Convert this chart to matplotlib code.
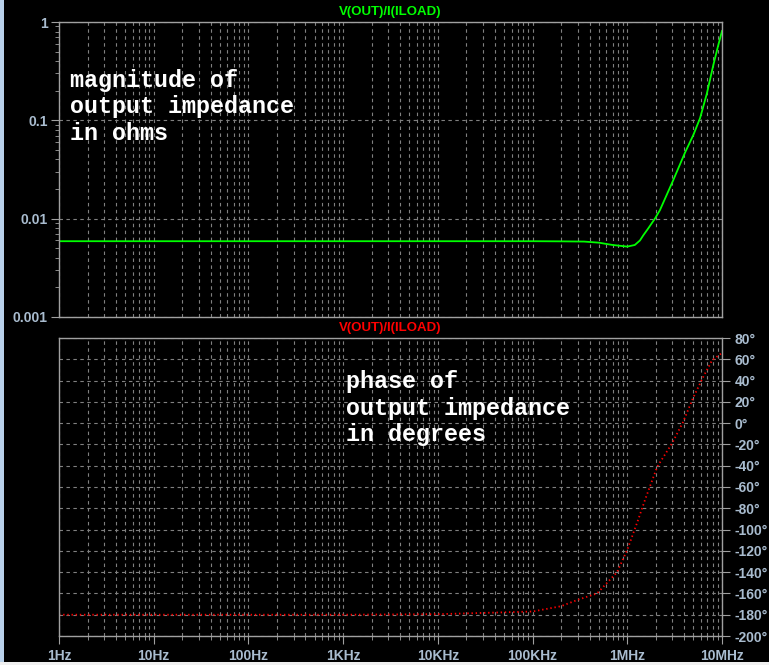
import matplotlib
matplotlib.use("Agg")
import matplotlib.pyplot as plt
import numpy as np
from matplotlib.ticker import LogLocator, NullFormatter
from matplotlib.patches import Rectangle

# magnitude of V(OUT)/I(ILOAD), ohms
freq_mag = [1, 10, 100, 1e3, 1e4, 1e5, 2e5, 3.5e5, 5e5, 7e5, 1e6, 1.2e6, 1.36e6,
            1.48e6, 1.67e6, 1.97e6, 2.21e6, 2.61e6, 3.06e6, 4.07e6, 4.98e6,
            5.86e6, 6.9e6, 8.1e6, 9e6, 1e7]
mag = [0.0059, 0.0059, 0.0059, 0.0059, 0.0059, 0.0059, 0.00588, 0.00585, 0.0057,
       0.0054, 0.0052, 0.0054, 0.006, 0.0068, 0.008, 0.0101, 0.0122, 0.0175, 0.0247,
       0.047, 0.0709, 0.105, 0.185, 0.365, 0.55, 0.81]

# phase of V(OUT)/I(ILOAD), degrees
freq_ph = [1, 1e3, 1e4, 1e5, 2e5, 3e5, 4.8e5, 7.8e5, 1e6, 1.3e6, 1.54e6, 2.07e6,
           2.97e6, 3.88e6, 4.95e6, 6.3e6, 7.85e6, 1e7]
phase = [-180, -180, -179.5, -177, -172, -166, -160, -140, -119, -91, -72, -41,
         -19, 1, 23.6, 43, 59, 66]

x_ticks = [1, 10, 100, 1e3, 1e4, 1e5, 1e6, 1e7]
x_labels = ["1Hz", "10Hz", "100Hz", "1KHz", "10KHz", "100KHz", "1MHz", "10MHz"]
mag_ticks = [0.001, 0.01, 0.1, 1]
mag_labels = ["0.001", "0.01", "0.1", "1"]
ph_ticks = list(range(-200, 81, 20))
ph_labels = ["%d\u00b0" % d for d in ph_ticks]
trace_name = "V(OUT)/I(ILOAD)"

plt.rcParams['lines.scale_dashes'] = False
bg = "black"
spine_c = "#a0a0a0"
grid_c = "#808080"
lab_c = "#a9bccf"
grid_dash = (0, (2.5, 2.5))

fig = plt.figure(figsize=(7.69, 6.65), dpi=100, facecolor=bg)
ax1 = fig.add_axes([59/769, 1-317/665, 663/769, 295/665], facecolor=bg)
ax2 = fig.add_axes([59/769, 1-636/665, 663/769, 298/665], facecolor=bg)

for ax in (ax1, ax2):
    ax.set_xscale("log")
    ax.set_xlim(1, 1e7)
    for s in ax.spines.values():
        s.set_color(spine_c)
        s.set_linewidth(1.0)
    ax.xaxis.set_minor_locator(LogLocator(base=10, subs=np.arange(2, 10), numticks=20))
    ax.xaxis.set_minor_formatter(NullFormatter())
    ax.grid(True, which="both", axis="x", color=grid_c, linestyle=grid_dash, linewidth=0.8)

# top: magnitude
ax1.set_yscale("log")
ax1.set_ylim(0.001, 1)
ax1.plot(freq_mag, mag, color="#00ff00", linewidth=1.3)
ax1.set_yticks(mag_ticks)
ax1.set_yticklabels(mag_labels)
ax1.yaxis.set_minor_locator(LogLocator(base=10, subs=np.arange(2, 10), numticks=20))
ax1.yaxis.set_minor_formatter(NullFormatter())
ax1.grid(True, which="major", axis="y", color=grid_c, linestyle=grid_dash, linewidth=0.8)
ax1.tick_params(axis="x", which="both", bottom=False, labelbottom=False)
ax1.tick_params(axis="y", which="major", length=6, color=spine_c, labelcolor=lab_c,
                labelsize=10, pad=2)
ax1.tick_params(axis="y", which="minor", length=3, color=spine_c)
ax1.set_xticks(x_ticks)

# bottom: phase
ax2.set_ylim(-200, 80)
ax2.plot(freq_ph, phase, color="#ff0000", linewidth=1.3, linestyle=(0, (1, 2)))
ax2.set_yticks(ph_ticks)
ax2.set_yticklabels(ph_labels)
ax2.yaxis.tick_right()
ax2.grid(True, which="major", axis="y", color=grid_c, linestyle=grid_dash, linewidth=0.8)
ax2.tick_params(axis="y", which="major", length=6, color=spine_c, labelcolor=lab_c,
                labelsize=10, pad=3)
ax2.set_xticks(x_ticks)
ax2.set_xticklabels(x_labels)
ax2.tick_params(axis="x", which="major", length=6, color=spine_c, labelcolor=lab_c,
                labelsize=10, pad=3)
ax2.tick_params(axis="x", which="minor", length=3, color=spine_c)

for lab in ax1.get_yticklabels() + ax2.get_yticklabels() + ax2.get_xticklabels():
    lab.set_family("Liberation Sans")
    lab.set_weight("bold")

fig.text(390.5/769, 1-12/665, trace_name, color="#00ff00", ha="center", va="center",
         fontsize=9.5, fontweight="bold", family="Liberation Sans")
fig.text(390.5/769, 1-328/665, trace_name, color="#ff0000", ha="center", va="center",
         fontsize=9.5, fontweight="bold", family="Liberation Sans")

mono = dict(color="white", fontsize=16.8, fontweight="bold", family="Liberation Mono",
            ha="left", va="baseline")
for txt, yb in zip(["magnitude of", "output impedance", "in ohms"], [87, 113.5, 140]):
    fig.text(70/769, 1-yb/665, txt, **mono)
for txt, yb in zip(["phase of", "output impedance", "in degrees"], [388, 415, 441.5]):
    fig.text(346/769, 1-yb/665, txt, **mono)

# window edges
fig.patches.append(Rectangle((0, 0), 4/769, 1, transform=fig.transFigure,
                             facecolor="#b9d1ea", edgecolor="none"))
fig.patches.append(Rectangle((0, 0), 1, 3/665, transform=fig.transFigure,
                             facecolor="#f0f0f0", edgecolor="none"))

fig.savefig("out.png", dpi=100, facecolor=bg)
